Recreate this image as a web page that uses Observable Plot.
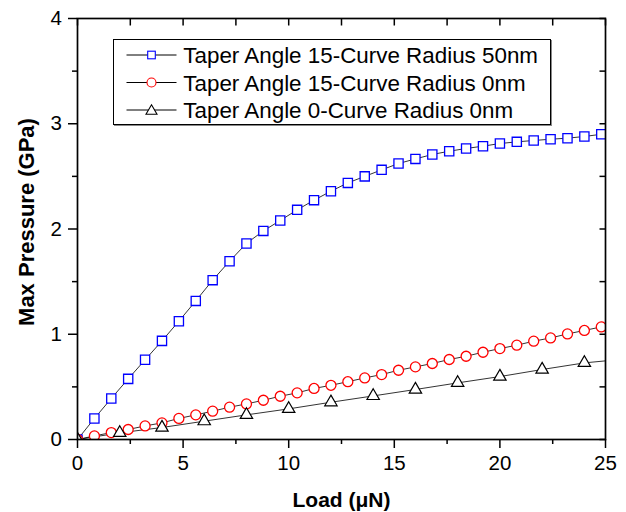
<!DOCTYPE html>
<html><head><meta charset="utf-8">
<script src="https://cdn.jsdelivr.net/npm/d3@7"></script>
<script src="https://cdn.jsdelivr.net/npm/@observablehq/plot@0.6"></script>
<style>
body{margin:0;background:#fff;}
#wrap{position:relative;width:626px;height:512px;font-family:"Liberation Sans",Arial,sans-serif;}
#legend{position:absolute;left:113px;top:39px;}
</style></head><body><div id="wrap"></div>
<script>
// ---- data ----
const loadFine = [0,0.8,1.6,2.4,3.2,4.0,4.8,5.6,6.4,7.2,8.0,8.8,9.6,10.4,11.2,12.0,12.8,13.6,14.4,15.2,16.0,16.8,17.6,18.4,19.2,20.0,20.8,21.6,22.4,23.2,24.0,24.8];
const pTaper15R50 = [0,0.20,0.39,0.576,0.757,0.937,1.124,1.317,1.514,1.694,1.863,1.982,2.081,2.182,2.274,2.359,2.438,2.50,2.562,2.622,2.666,2.708,2.739,2.765,2.787,2.812,2.828,2.841,2.853,2.863,2.879,2.90];
const pTaper15R0 = [0,0.034,0.066,0.095,0.129,0.158,0.20,0.234,0.269,0.307,0.338,0.373,0.411,0.443,0.485,0.515,0.549,0.585,0.617,0.658,0.690,0.722,0.76,0.791,0.829,0.864,0.896,0.934,0.965,1.003,1.036,1.07];
const loadCoarse = [0,2,4,6,8,10,12,14,16,18,20,22,24,25];
const pTaper0R0 = [0,0.063,0.114,0.174,0.234,0.291,0.354,0.414,0.475,0.538,0.598,0.665,0.728,0.747];
const seriesNames = ["Taper Angle 15-Curve Radius 50nm","Taper Angle 15-Curve Radius 0nm","Taper Angle 0-Curve Radius 0nm"];
const seriesColors = ["#0000ff","#ff0000","#000000"];
const seriesSymbols = ["square","circle","triangle"];
const xMajor = [0,5,10,15,20,25];
const xMinor = [2.5,7.5,12.5,17.5,22.5];
const yMajor = [0,1,2,3,4];
const yMinor = [0.5,1.5,2.5,3.5];
const xTitle = "Load (\u03BCN)";
const yTitle = "Max Pressure (GPa)";

// ---- tables ----
const s1 = loadFine.map((x,i)=>({x, y:pTaper15R50[i]}));
const s2 = loadFine.map((x,i)=>({x, y:pTaper15R0[i]}));
const s3 = loadCoarse.map((x,i)=>({x, y:pTaper0R0[i]}));
const s3markers = s3.filter(d => d.x % 2 === 0);

const font = "Liberation Sans, Arial, sans-serif";
const plot = Plot.plot({
  width: 626, height: 512,
  marginLeft: 77, marginRight: 21, marginTop: 18, marginBottom: 73,
  style: {fontFamily: font, fontSize: "20px", color: "#000", background: "#fff", overflow: "visible"},
  x: {domain: [0,25]},
  y: {domain: [0,4]},
  marks: [
    Plot.axisX({ticks: xMajor, tickSize: 9, tickPadding: 6.5, tickFormat: d => String(d), label: null, strokeWidth: 1.5, fontSize: 20.5}),
    Plot.axisX({ticks: xMinor, tickSize: 5, text: null, label: null, strokeWidth: 1.5}),
    Plot.axisX({anchor: "top", ticks: xMajor.concat(xMinor), tickSize: -6.5, text: null, label: null, strokeWidth: 1.5}),
    Plot.axisY({ticks: yMajor, tickSize: 9, tickPadding: 6.5, tickFormat: d => String(d), label: null, strokeWidth: 1.5, fontSize: 20.5}),
    Plot.axisY({ticks: yMinor, tickSize: 5, text: null, label: null, strokeWidth: 1.5}),
    Plot.axisY({anchor: "right", ticks: yMajor.concat(yMinor), tickSize: -6.5, text: null, label: null, strokeWidth: 1.5}),
    Plot.line(s1, {x: "x", y: "y", stroke: "#000", strokeWidth: 0.8}),
    Plot.line(s2, {x: "x", y: "y", stroke: "#000", strokeWidth: 0.8}),
    Plot.line(s3, {x: "x", y: "y", stroke: "#000", strokeWidth: 0.8}),
    Plot.dot(s1, {x: "x", y: "y", symbol: seriesSymbols[0], r: 5.2, stroke: seriesColors[0], fill: "#fff", strokeWidth: 1.3, clip: true}),
    Plot.dot(s2, {x: "x", y: "y", symbol: seriesSymbols[1], r: 5, stroke: seriesColors[1], fill: "#fff", strokeWidth: 1.3, clip: true}),
    Plot.dot(s3markers, {x: "x", y: "y", symbol: seriesSymbols[2], r: 4.6, stroke: seriesColors[2], fill: "#fff", strokeWidth: 1.2, clip: true}),
    Plot.frame({strokeWidth: 1.7}),
    Plot.text([xTitle], {text: d => d, frameAnchor: "bottom", dy: 61, textAnchor: "middle", lineAnchor: "middle", fontWeight: "bold", fontSize: 21}),
    Plot.text([yTitle], {text: d => d, frameAnchor: "left", rotate: -90, dx: -51, dy: -7, textAnchor: "middle", lineAnchor: "middle", fontWeight: "bold", fontSize: 22})
  ]
});
const wrap = document.getElementById("wrap");
wrap.appendChild(plot);

// ---- legend (HTML overlay) ----
const NS = "http://www.w3.org/2000/svg";
const lg = document.createElementNS(NS, "svg");
lg.setAttribute("id","legend");
lg.setAttribute("width", 440); lg.setAttribute("height", 89);
function el(tag, attrs, parent){const e=document.createElementNS(NS,tag);for(const k in attrs)e.setAttribute(k,attrs[k]);parent.appendChild(e);return e;}
el("rect",{x:1.5,y:1.5,width:437,height:85,fill:"none",stroke:"#888","stroke-width":1},lg);
el("rect",{x:0.5,y:0.5,width:437,height:85,fill:"#fff",stroke:"#000","stroke-width":1},lg);
const rowsY = [16, 43.5, 71];
seriesNames.forEach((name,i)=>{
  const cy = rowsY[i];
  el("line",{x1:13.5,x2:63.5,y1:cy,y2:cy,stroke:"#000","stroke-width":1},lg);
  const mx = 38.5;
  if (seriesSymbols[i]==="square") el("rect",{x:mx-3.8,y:cy-3.8,width:7.6,height:7.6,fill:"#fff",stroke:seriesColors[i],"stroke-width":1.1},lg);
  else if (seriesSymbols[i]==="circle") el("circle",{cx:mx,cy:cy,r:4.5,fill:"#fff",stroke:seriesColors[i],"stroke-width":1.1},lg);
  else el("path",{d:`M${mx},${cy-5.2}L${mx+5.5},${cy+4.2}L${mx-5.5},${cy+4.2}Z`,fill:"#fff",stroke:seriesColors[i],"stroke-width":1.1},lg);
  const t = el("text",{x:70.3,y:cy+8,"font-family":font,"font-size":22.4,fill:"#000"},lg);
  t.textContent = name;
});
wrap.appendChild(lg);
</script>
</body></html>
